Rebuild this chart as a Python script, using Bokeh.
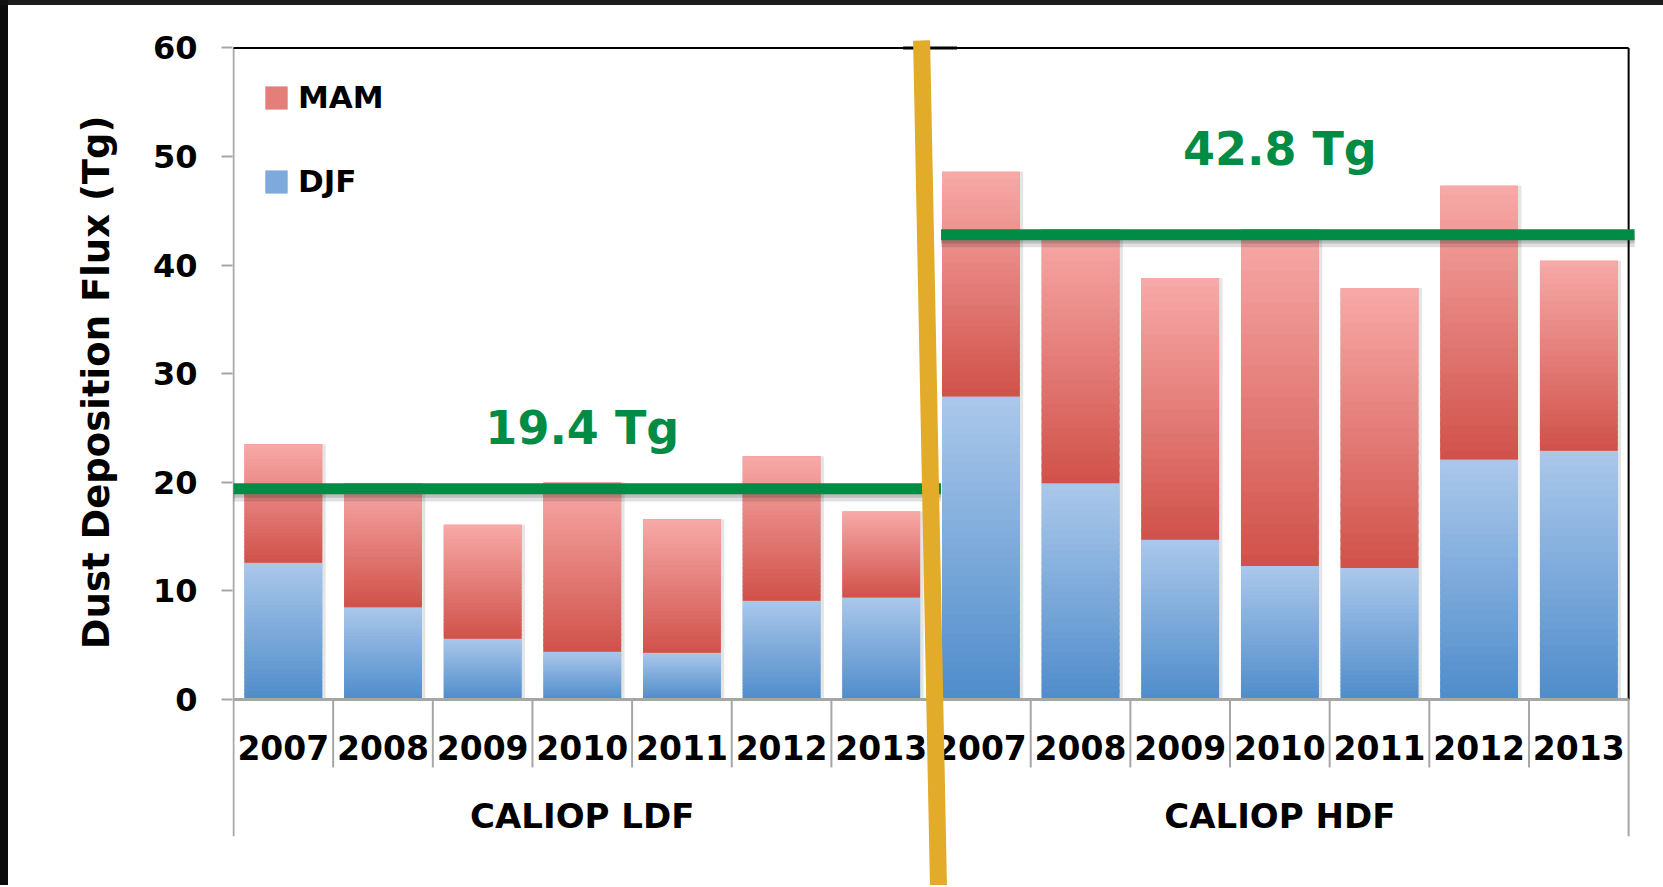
from bokeh.plotting import figure
from bokeh.models import ColumnDataSource, Range1d, FixedTicker, Legend, LegendItem, Title
from bokeh.core.properties import value
from bokeh.embed import file_html
from bokeh.resources import INLINE

# ---------------------------------------------------------------- data
groups = ["CALIOP LDF", "CALIOP HDF"]
years = ["2007", "2008", "2009", "2010", "2011", "2012", "2013"]

# seasonal dust deposition flux (Tg): winter (DJF) and spring (MAM)
ldf_djf = [12.6, 8.5, 5.6, 4.4, 4.3, 9.1, 9.4]
ldf_mam = [10.9, 11.4, 10.5, 15.6, 12.3, 13.3, 7.9]
hdf_djf = [27.9, 19.9, 14.7, 12.3, 12.1, 22.1, 22.9]
hdf_mam = [20.7, 23.4, 24.1, 31.0, 25.8, 25.2, 17.5]

y_ticks = [0, 10, 20, 30, 40, 50, 60]

# ---------------------------------------------------------------- style
FONT = "DejaVu Sans"
BLUE_TOP, BLUE_BOTTOM = "#abc8ea", "#4f8ccb"
RED_TOP, RED_BOTTOM = "#f7aaa8", "#d0514a"
GREEN = "#008c45"
GOLD = "#e2ac2a"
AXIS_GRAY = "#a6a6a6"
BAR_WIDTH = 0.78
N_SLICES = 32

djf_by_group = [ldf_djf, hdf_djf]
mam_by_group = [ldf_mam, hdf_mam]
n_years = len(years)
n_cats = n_years * len(groups)

xs, djf, mam, year_labels = [], [], [], []
for g, grp in enumerate(groups):
    for j, yr in enumerate(years):
        xs.append(g * n_years + j + 0.5)
        djf.append(djf_by_group[g][j])
        mam.append(mam_by_group[g][j])
        year_labels.append(yr)
totals = [d + m for d, m in zip(djf, mam)]
means = [sum(totals[g * n_years:(g + 1) * n_years]) / n_years for g in range(len(groups))]
group_centers = [g * n_years + n_years / 2 for g in range(len(groups))]


def mix(c1, c2, t):
    a = [int(c1[i:i + 2], 16) for i in (1, 3, 5)]
    b = [int(c2[i:i + 2], 16) for i in (1, 3, 5)]
    return "#%02x%02x%02x" % tuple(round(a[k] + (b[k] - a[k]) * t) for k in range(3))


def gradient_slices(xpos, bottoms, tops, c_bottom, c_top):
    """Split each bar segment into thin bands shading from dark (bottom) to light (top)."""
    sx, sb, st, sc = [], [], [], []
    for x, b, t in zip(xpos, bottoms, tops):
        h = (t - b) / N_SLICES
        for k in range(N_SLICES):
            sx.append(x)
            sb.append(b + k * h)
            st.append(min(t, b + (k + 1.4) * h))
            sc.append(mix(c_bottom, c_top, (k + 0.5) / N_SLICES))
    return ColumnDataSource(dict(x=sx, bottom=sb, top=st, color=sc))


bars = ColumnDataSource(dict(
    x=xs, djf=djf, mam=mam, total=totals,
    zero=[0] * n_cats,
    shadow_x=[x + 0.035 for x in xs],
))

# ---------------------------------------------------------------- figure
p = figure(
    width=1655, height=880,
    x_range=Range1d(-0.01, 14.35), y_range=Range1d(-17.13, 61.60),
    output_backend="svg", toolbar_location=None, x_axis_location=None,
    min_border_left=224, min_border_right=0, min_border_top=25, min_border_bottom=0,
    outline_line_color=None, background_fill_color="white", border_fill_color="white",
)
# dark frame strip along the top and left edges of the page
p.styles = {
    "margin-left": "8px",
    "margin-top": "5px",
    "box-shadow": "-8px 0 0 0 #0b0b0b, 0 -5px 0 0 #1c1c1c, -8px -5px 0 0 #111111",
}
p.grid.grid_line_color = None

yax = p.yaxis[0]
yax.ticker = FixedTicker(ticks=y_ticks)
yax.axis_line_color = None
yax.major_tick_line_color = AXIS_GRAY
yax.major_tick_line_width = 2
yax.major_tick_out = 11
yax.major_tick_in = 0
yax.minor_tick_line_color = None
yax.major_label_text_font = FONT
yax.major_label_text_font_style = "bold"
yax.major_label_text_font_size = "32px"
yax.major_label_text_color = "black"
yax.major_label_standoff = 24

# y-axis title, anchored near the top of the 0-60 span
p.add_layout(Title(text="Dust Deposition Flux (Tg)", align="right", offset=85, standoff=64,
                   text_font=FONT, text_font_style="bold", text_font_size="37px",
                   text_color="black"), "left")

# soft drop shadow to the right of each bar
p.vbar(x="shadow_x", width=BAR_WIDTH, bottom="zero", top="total", source=bars,
       fill_color="black", fill_alpha=0.10, line_color=None)

# stacked bars (flat base used by the legend), then gradient shading on top
djf_r = p.vbar(x="x", width=BAR_WIDTH, bottom="zero", top="djf", source=bars,
               fill_color=mix(BLUE_BOTTOM, BLUE_TOP, 0.5), line_color=None)
mam_r = p.vbar(x="x", width=BAR_WIDTH, bottom="djf", top="total", source=bars,
               fill_color=mix(RED_BOTTOM, RED_TOP, 0.5), line_color=None)
p.vbar(x="x", width=BAR_WIDTH, bottom="bottom", top="top", fill_color="color", line_color=None,
       source=gradient_slices(xs, [0] * n_cats, djf, BLUE_BOTTOM, BLUE_TOP))
p.vbar(x="x", width=BAR_WIDTH, bottom="bottom", top="top", fill_color="color", line_color=None,
       source=gradient_slices(xs, djf, totals, RED_BOTTOM, RED_TOP))

# plot-area border and multi-level category axis lines
y_top = y_ticks[-1]
sep_short, sep_long = -6.26, -12.6
p.segment(x0=[0], y0=[y_top], x1=[0], y1=[sep_long], line_color=AXIS_GRAY, line_width=2)
p.segment(x0=[n_cats], y0=[0], x1=[n_cats], y1=[sep_long], line_color=AXIS_GRAY, line_width=2)
p.segment(x0=[0], y0=[y_top], x1=[n_cats], y1=[y_top], line_color="black", line_width=2)
p.segment(x0=[n_years - 0.28], y0=[y_top], x1=[n_years + 0.26], y1=[y_top],
          line_color="black", line_width=3)
p.segment(x0=[n_cats], y0=[y_top], x1=[n_cats], y1=[0], line_color="black", line_width=2)
p.segment(x0=[0], y0=[0], x1=[n_cats], y1=[0], line_color=AXIS_GRAY, line_width=3)
inner = [k for k in range(1, n_cats) if k % n_years != 0]
p.segment(x0=inner, y0=[0] * len(inner), x1=inner, y1=[sep_short] * len(inner),
          line_color=AXIS_GRAY, line_width=2)
p.segment(x0=[n_years], y0=[0], x1=[n_years], y1=[sep_long], line_color=AXIS_GRAY, line_width=2)

# category labels
p.text(x=xs, y=[-4.42] * n_cats, text=year_labels, text_font=value(FONT),
       text_font_style="bold", text_font_size="33px", text_color="black",
       text_align="center", text_baseline="middle")
p.text(x=group_centers, y=[-10.77] * len(groups), text=groups, text_font=value(FONT),
       text_font_style="bold", text_font_size="34px", text_color="black",
       text_align="center", text_baseline="middle")

# group mean lines with shadow
mean_x0 = [0, n_years + 0.1]
mean_x1 = [n_years + 0.1, n_cats + 0.06]
p.segment(x0=mean_x0, y0=[m - 0.75 for m in means], x1=mean_x1, y1=[m - 0.75 for m in means],
          line_color="black", line_alpha=0.12, line_width=9)
p.segment(x0=mean_x0, y0=[m - 0.45 for m in means], x1=mean_x1, y1=[m - 0.45 for m in means],
          line_color="black", line_alpha=0.15, line_width=8)
p.segment(x0=mean_x0, y0=means, x1=mean_x1, y1=means, line_color=GREEN, line_width=11)
p.text(x=group_centers, y=[25.0, 50.7], text=["%.1f Tg" % m for m in means],
       text_font=value(FONT), text_font_style="bold", text_font_size="46px",
       text_color=GREEN, text_align="center", text_baseline="middle")

# divider between the two retrievals
p.segment(x0=[n_years - 0.065], y0=[60.68], x1=[n_years + 0.106], y1=[-18],
          line_color="black", line_alpha=0.12, line_width=8)
p.segment(x0=[n_years - 0.095], y0=[60.68], x1=[n_years + 0.076], y1=[-18],
          line_color=GOLD, line_width=17)

legend = Legend(
    items=[LegendItem(label="MAM", renderers=[mam_r]), LegendItem(label="DJF", renderers=[djf_r])],
    location=(30, 686), orientation="vertical",
    label_text_font=FONT, label_text_font_style="bold", label_text_font_size="31px",
    label_text_color="black", glyph_width=28, glyph_height=29, label_standoff=8,
    spacing=48, padding=0, margin=0, border_line_color=None, background_fill_alpha=0,
)
p.add_layout(legend)

open("out.html", "w").write(file_html(p, INLINE))
